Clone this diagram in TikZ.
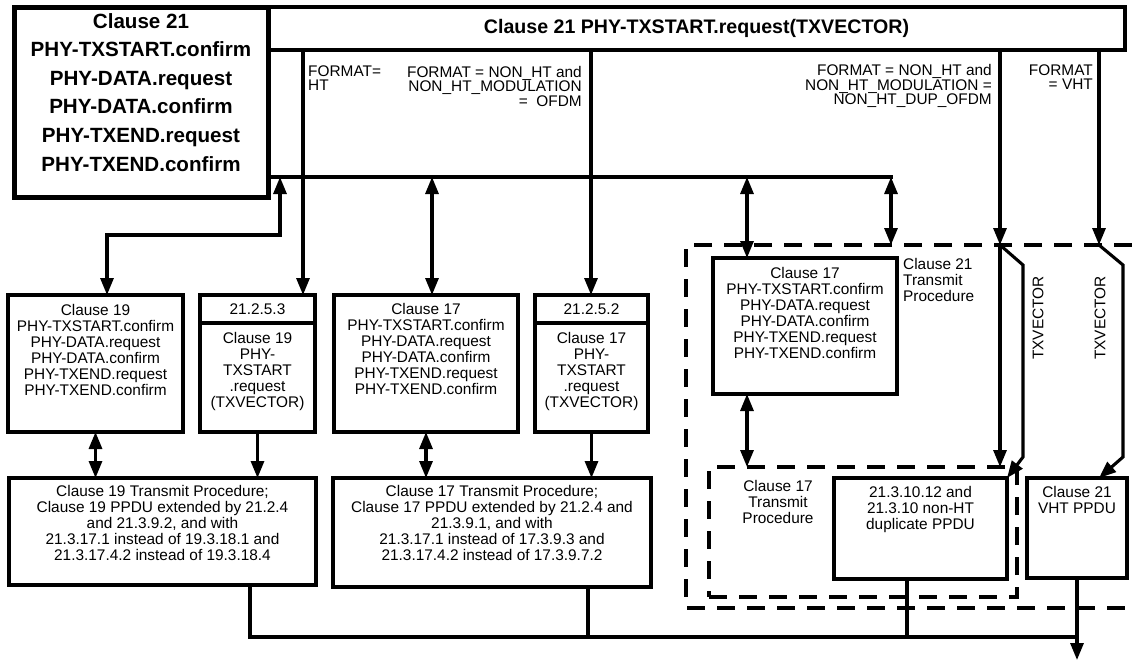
\documentclass[tikz,border=0pt]{standalone}
\usepackage{fontspec}
\setmainfont{Liberation Sans}
\usetikzlibrary{arrows.meta,positioning}
\tikzset{
  blk/.style={draw,line width=3.3pt,inner sep=0pt,outer sep=0pt,anchor=north west},
  txt/.style={align=center,inner sep=0pt,font=\fontsize{15.4}{16}\selectfont},
  lbl/.style={inner sep=0pt,font=\fontsize{15.4}{14.5}\selectfont},
  bld/.style={align=center,inner sep=0pt,font=\fontsize{20.6}{28.6}\selectfont\bfseries},
  ln/.style={line width=3.1pt},
  arr/.style={ln,-{Triangle[length=17pt,width=13pt]}},
  darr/.style={ln,{Triangle[length=17pt,width=13pt]}-{Triangle[length=17pt,width=13pt]}},
  dsh/.style={line width=3.2pt,dash pattern=on 18pt off 12pt},
}

\begin{document}
\begin{tikzpicture}[x=1pt,y=-1pt]
  \useasboundingbox (0,0) rectangle (1132,662);
  % clause 21 on top
  \node[blk,line width=5pt,minimum width=254pt,minimum height=190pt] (t) at (14,7) {};
  \node[bld,below=6pt of t.north] (tt) {Clause 21\\PHY-TXSTART.confirm\\PHY-DATA.request\\PHY-DATA.confirm\\PHY-TXEND.request\\PHY-TXEND.confirm};
  \node[blk,line width=4.5pt,minimum width=857pt,minimum height=43pt,font=\fontsize{19.6}{22}\selectfont\bfseries] (bar) at (268,7) {Clause 21 PHY-TXSTART.request(TXVECTOR)};
  % first row
  \node[blk,minimum width=175pt,minimum height=137pt] (a) at (8,295) {};
  \node[blk,txt,minimum width=115pt,minimum height=28pt] (b0) at (200,295) {21.2.5.3};
  \node[blk,minimum width=115pt,minimum height=109pt] (b) at (200,323) {};
  \node[blk,minimum width=184pt,minimum height=137pt] (c) at (334,295) {};
  \node[blk,txt,minimum width=113pt,minimum height=28pt] (d0) at (535,295) {21.2.5.2};
  \node[blk,minimum width=113pt,minimum height=109pt] (d) at (535,323) {};
  \node[txt,below=9.5pt of a.north] (ta) {Clause 19\\PHY-TXSTART.confirm\\PHY-DATA.request\\PHY-DATA.confirm\\PHY-TXEND.request\\PHY-TXEND.confirm};
  \node[txt,below=9.5pt of b.north] (tb) {Clause 19\\PHY-\\TXSTART\\.request\\(TXVECTOR)};
  \node[txt,below=8.5pt of c.north] (tc) {Clause 17\\PHY-TXSTART.confirm\\PHY-DATA.request\\PHY-DATA.confirm\\PHY-TXEND.request\\PHY-TXEND.confirm};
  \node[txt,below=9.5pt of d.north] (td) {Clause 17\\PHY-\\TXSTART\\.request\\(TXVECTOR)};
  % second row
  \node[blk,minimum width=307pt,minimum height=107pt] (e) at (9,478) {};
  \node[blk,minimum width=318pt,minimum height=109pt] (f) at (333,478) {};
  \node[txt,below=7.5pt of e.north] (te) {Clause 19 Transmit Procedure;\\Clause 19 PPDU extended by 21.2.4\\and 21.3.9.2, and with\\21.3.17.1 instead of 19.3.18.1 and\\21.3.17.4.2 instead of 19.3.18.4};
  \node[txt,below=7.5pt of f.north] (tf) {Clause 17 Transmit Procedure;\\Clause 17 PPDU extended by 21.2.4 and\\21.3.9.1, and with\\21.3.17.1 instead of 17.3.9.3 and\\21.3.17.4.2 instead of 17.3.9.7.2};
  % clause 21 transmit procedure (dashed)
  \coordinate (o1) at (1132,245); \coordinate (o2) at (686,608); \coordinate (o3) at (1132,608);
  \draw[dsh] (o1) -| (o2) -- (o3);
  \node[blk,minimum width=184pt,minimum height=136pt] (g) at (713,258) {};
  \node[txt,below=9.5pt of g.north] (tg) {Clause 17\\PHY-TXSTART.confirm\\PHY-DATA.request\\PHY-DATA.confirm\\PHY-TXEND.request\\PHY-TXEND.confirm};
  \node[txt,align=left,anchor=north west,xshift=6pt] (tp21) at (g.north east) {Clause 21\\Transmit\\Procedure};
  \node[blk,dsh,minimum width=308pt,minimum height=130pt] (dp) at (709,467) {};
  \node[txt,anchor=north] (tp17) at (778,480.5) {Clause 17\\Transmit\\Procedure};
  \node[blk,minimum width=173pt,minimum height=101pt] (h) at (834,478) {};
  \node[blk,minimum width=100pt,minimum height=100pt] (i) at (1027,478) {};
  \node[txt,below=8.5pt of h.north] (th) {21.3.10.12 and\\21.3.10 non-HT\\duplicate PPDU};
  \node[txt,below=8.5pt of i.north] (ti) {Clause 21\\VHT PPDU};
  % format labels
  \node[lbl,align=left,anchor=north west] (fm1) at (308,65.5) {FORMAT=\\HT};
  \node[lbl,align=right,anchor=north east] (fm2) at (582,66) {FORMAT = NON\_HT and\\NON\_HT\_MODULATION\\=\ \ OFDM};
  \node[lbl,align=right,anchor=north east] (fm3) at (992,64.5) {FORMAT = NON\_HT and\\NON\_HT\_MODULATION =\\NON\_HT\_DUP\_OFDM};
  \node[lbl,align=right,anchor=north east] (fm4) at (1093,64.5) {FORMAT\\= VHT};
  \node[lbl,rotate=90] (v1) at (1038,318) {TXVECTOR};
  \node[lbl,rotate=90] (v2) at (1100,318) {TXVECTOR};
  % connectors
  \coordinate (h0) at (268,177); \coordinate (h1) at (893,177);
  \coordinate (j1) at (303,50); \coordinate (j2) at (591,50);
  \coordinate (j3) at (1000,245); \coordinate (j4) at (1099,245);
  \coordinate (k1) at (280,177); \coordinate (k2) at (107,235);
  \coordinate (k3) at (432,177); \coordinate (k4) at (747,177); \coordinate (k5) at (891,177);
  \draw[ln] (h0) -- (h1);
  \draw[arr] (j1) -- (j1 |- b0.north);
  \draw[arr] (j2) -- (j2 |- d0.north);
  \draw[arr] (j3 |- bar.south) -- (j3);
  \draw[arr] (j4 |- bar.south) -- (j4);
  \draw[darr] (k1) |- (k2) -- (k2 |- a.north);
  \draw[darr] (k3) -- (k3 |- c.north);
  \draw[darr] (k4) -- (k4 |- g.north);
  \draw[darr] (k5) -- (k5 |- j3);
  \draw[darr] (a.south) -- (a.south |- e.north);
  \draw[arr] (b.south) -- (b.south |- e.north);
  \draw[darr] (c.south) -- (c.south |- f.north);
  \draw[arr] (d.south) -- (d.south |- f.north);
  \draw[darr] (g.south -| k4) -- (k4 |- dp.north);
  \draw[arr] (j3) -- (j3 |- dp.north);
  \draw[arr] (j3) -- ++(23,20) -- ++(0,192) -- (h.north east);
  \draw[arr] (j4) -- ++(24,20) -- ++(0,192) -- (i.north -| j4);
  % outputs
  \coordinate (q1) at (250,637); \coordinate (q3) at (588,637); \coordinate (q4) at (907,637);
  \coordinate (out) at (1077,660);
  \draw[ln] (q1 |- e.south) -- (q1) -- (q1 -| i.south);
  \draw[ln] (q3 |- f.south) -- (q3);
  \draw[ln] (q4 |- h.south) -- (q4);
  \draw[arr] (i.south) -- (out);
\end{tikzpicture}
\end{document}
